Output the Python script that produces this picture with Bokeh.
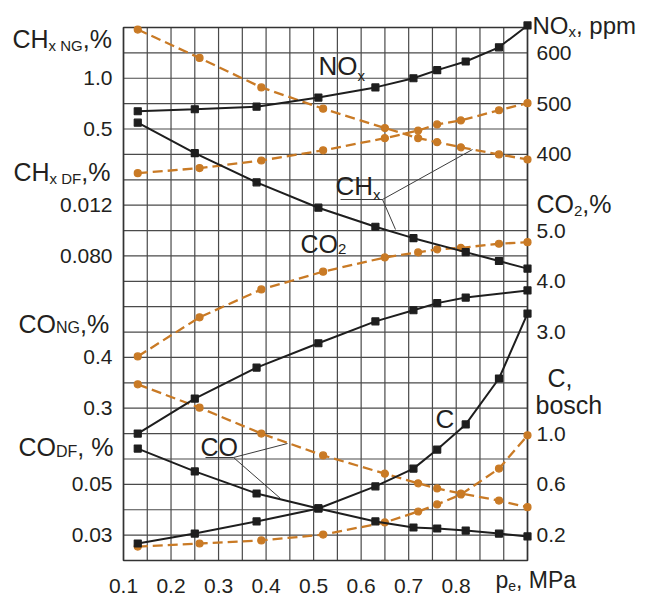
from bokeh.plotting import figure
from bokeh.models import Range1d, Label
from bokeh.core.properties import value
from bokeh.embed import file_html
from bokeh.resources import INLINE

# ---------------- data ----------------
# engine load, MPa
x_df = [0.13, 0.25, 0.38, 0.51, 0.63, 0.71, 0.76, 0.82, 0.89, 0.95]
x_ng = [0.13, 0.26, 0.39, 0.52, 0.65, 0.72, 0.76, 0.81, 0.89, 0.95]
x_chx_df = [0.13, 0.25, 0.38, 0.51, 0.63, 0.71, 0.82, 0.89, 0.95]
x_co2_df = [0.13, 0.25, 0.38, 0.51, 0.63, 0.71, 0.76, 0.82, 0.95]

# NOx, ppm
nox_df = [485, 489, 494, 512, 532, 550, 566, 583, 611, 654]
nox_ng = [363, 373, 388, 408, 432, 447, 459, 467, 487, 501]
# CHx, %
chx_ng = [1.48, 1.20, 0.91, 0.70, 0.51, 0.41, 0.37, 0.32, 0.25, 0.20]
chx_df = [0.185, 0.161, 0.138, 0.118, 0.103, 0.094, 0.083, 0.076, 0.070]
# CO2, %
co2_ng = [2.52, 3.29, 3.84, 4.19, 4.47, 4.57, 4.63, 4.66, 4.74, 4.77]
co2_df = [1.00, 1.69, 2.30, 2.78, 3.21, 3.43, 3.57, 3.68, 3.82]
# CO, %
co_ng = [0.347, 0.301, 0.250, 0.207, 0.171, 0.152, 0.142, 0.132, 0.118, 0.105]
co_df = [0.0641, 0.0551, 0.0464, 0.0405, 0.0354, 0.0330, 0.0326, 0.0318, 0.0306, 0.0295]
# C, bosch
c_df = [0.134, 0.212, 0.308, 0.410, 0.584, 0.724, 0.874, 1.072, 1.434, 1.946]
c_ng = [0.110, 0.134, 0.158, 0.204, 0.300, 0.386, 0.442, 0.520, 0.724, 0.986]

# axis scales: value at the bottom and at the top of the common grid
scales = {
    "nox": (-400, 650),
    "chx_ng": (-3.75, 1.5),
    "chx_df": (-0.16, 0.26),
    "co2": (-1.5, 9.0),
    "co_ng": (0.0, 1.05),
    "co_df": (0.02, 0.23),
    "c": (0.0, 4.2),
}

# tick labels
x_ticks = [0.1, 0.2, 0.3, 0.4, 0.5, 0.6, 0.7, 0.8]
x_tick_labels = ["0.1", "0.2", "0.3", "0.4", "0.5", "0.6", "0.7", "0.8"]
left_ticks = [
    ("chx_ng", [1.0, 0.5], ["1.0", "0.5"]),
    ("chx_df", [0.12, 0.08], ["0.012", "0.080"]),
    ("co_ng", [0.4, 0.3], ["0.4", "0.3"]),
    ("co_df", [0.05, 0.03], ["0.05", "0.03"]),
]
right_ticks = [
    ("nox", [600, 500, 400], ["600", "500", "400"]),
    ("co2", [5.0, 4.0, 3.0], ["5.0", "4.0", "3.0"]),
    ("c", [1.0, 0.6, 0.2], ["1.0", "0.6", "0.2"]),
]

# ---------------- styling / geometry ----------------
FONT = "Liberation Sans"
TXT = "#231f20"
BLACK = "#1e1e1e"
ORANGE = "#c97a25"
GRID = "#4a4a4a"
NROWS = 21
XMIN, XMAX, XSTEP = 0.1, 0.95, 0.05

W, H = 646, 596
X0, X1, Y0, Y1 = 123, 527, 27, 560   # grid box in picture pixels


def dx(px):
    return XMIN + (px - X0) * (XMAX - XMIN) / (X1 - X0)


def dy(py):
    return (Y1 - py) * NROWS / (Y1 - Y0)


ub, ut = dy(H), dy(0)   # grid-row units at the canvas bottom / top

p = figure(width=W, height=H, output_backend="svg", toolbar_location=None,
           x_range=Range1d(dx(0), dx(W)), y_range=Range1d(ub, ut),
           x_axis_location=None, y_axis_location=None, min_border=0)
p.background_fill_color = "white"
p.border_fill_color = "white"
p.outline_line_color = None
p.grid.visible = False
p.extra_y_ranges = {
    k: Range1d(lo + (hi - lo) * ub / NROWS, lo + (hi - lo) * ut / NROWS)
    for k, (lo, hi) in scales.items()
}

# grid: 0.05 MPa columns, 21 rows
ncols = int(round((XMAX - XMIN) / XSTEP))
gx = [XMIN + XSTEP * i for i in range(ncols + 1)]
gy = list(range(NROWS + 1))
p.segment(x0=gx, y0=[0] * len(gx), x1=gx, y1=[NROWS] * len(gx),
          line_color=GRID, line_width=1.2)
p.segment(x0=[XMIN] * len(gy), y0=gy, x1=[XMAX] * len(gy), y1=gy,
          line_color=GRID, line_width=1.2)
p.quad(left=[XMIN], right=[XMAX], bottom=[0], top=[NROWS], fill_color=None,
       line_color="#333333", line_width=1.6)


def to_u(name, v):
    lo, hi = scales[name]
    return (v - lo) / (hi - lo) * NROWS


def tick_text(xs, ys, texts, align):
    p.text(x=xs, y=ys, text=texts, text_font=value(FONT), text_font_size=value("21px"),
           text_color=TXT, text_align=align, text_baseline="middle")


# tick labels
lu, ls = [], []
for name, vals, labs in left_ticks:
    lu += [to_u(name, v) for v in vals]
    ls += labs
tick_text([dx(112)] * len(lu), lu, ls, "right")
ru, rs = [], []
for name, vals, labs in right_ticks:
    ru += [to_u(name, v) for v in vals]
    rs += labs
tick_text([dx(536)] * len(ru), ru, rs, "left")
tick_text(x_ticks, [dy(585)] * len(x_ticks), x_tick_labels, "center")

# ---------------- series ----------------
orange_series = [
    (x_ng, nox_ng, "nox"),
    (x_ng, chx_ng, "chx_ng"),
    (x_ng, co2_ng, "co2"),
    (x_ng, co_ng, "co_ng"),
    (x_ng, c_ng, "c"),
]
black_series = [
    (x_df, nox_df, "nox"),
    (x_chx_df, chx_df, "chx_df"),
    (x_co2_df, co2_df, "co2"),
    (x_df, co_df, "co_df"),
    (x_df, c_df, "c"),
]
for xs, ys, rn in orange_series:
    p.line(xs, ys, y_range_name=rn, line_color=ORANGE, line_width=2.3, line_dash="10 5")
    p.scatter(xs, ys, y_range_name=rn, marker="circle", size=7,
              fill_color=ORANGE, line_color=ORANGE, line_width=1.2)
for xs, ys, rn in black_series:
    p.line(xs, ys, y_range_name=rn, line_color=BLACK, line_width=2.0)
    p.scatter(xs, ys, y_range_name=rn, marker="square", size=7,
              fill_color=BLACK, line_color=BLACK, line_width=1.2)

# ---------------- annotations ----------------
EM = {"C": .722, "H": .722, "N": .722, "O": .778, "G": .778, "D": .722, "F": .611,
      "M": .833, "P": .667, "x": .5, "p": .556, "m": .833, "e": .556, "b": .556,
      "o": .556, "s": .5, "c": .5, "h": .556, "a": .556, ",": .278, "%": .889,
      " ": .278, ".": .278}


def rich(px, base, pieces):
    """Text pieces laid out left to right; base = baseline in picture pixels."""
    x = px
    for txt, size, shift in pieces:
        mid = base + shift - 0.35 * size
        p.add_layout(Label(x=dx(x), y=dy(mid), text=txt, text_font=FONT,
                           text_font_size=f"{size}px", text_color=TXT,
                           text_baseline="middle", text_align="left"))
        x += sum(EM.get(ch, .556) for ch in txt) * size


# axis titles, left
rich(12, 47, [("CH", 25, 0), ("x NG", 15, 3), (",%", 25, 0)])
rich(13, 180, [("CH", 25, 0), ("x DF", 15, 3), (",%", 25, 0)])
rich(18, 332, [("CO", 25, 0), ("NG", 16, 1), (",%", 25, 0)])
rich(18, 455, [("CO", 25, 0), ("DF", 16, 2), (", %", 25, 0)])
# axis titles, right
rich(532, 33, [("NO", 24, 0), ("x", 15, 3), (", ppm", 24, 0)])
rich(536, 212, [("CO", 25, 0), ("2", 15, 4), (",%", 25, 0)])
rich(547, 386, [("C,", 25, 0)])
rich(535, 413, [("bosch", 25, 0)])
rich(495, 588, [("p", 23, 0), ("e", 14, 2), (", MPa", 23, 0)])
# curve labels
rich(318, 75, [("NO", 26, 0), ("x", 15, 5)])
rich(335, 195, [("CH", 26, 0), ("x", 15, 4)])
rich(300, 252, [("CO", 25, 0), ("2", 15, 2)])
rich(200, 455, [("CO", 25, 0)])
rich(435, 428, [("C", 26, 0)])

# leader lines (picture pixel anchors of the label callouts)
leaders = [
    ((340, 199), (382, 199)), ((382, 199), (472, 149)), ((382, 199), (395, 229)),
    ((205, 457), (233, 457)), ((233, 457), (287, 443)), ((233, 457), (280, 498)),
]
p.segment(x0=[dx(a[0]) for a, b in leaders], y0=[dy(a[1]) for a, b in leaders],
          x1=[dx(b[0]) for a, b in leaders], y1=[dy(b[1]) for a, b in leaders],
          line_color="#3c3c3c", line_width=1.0)

open("out.html", "w").write(file_html(p, INLINE))
